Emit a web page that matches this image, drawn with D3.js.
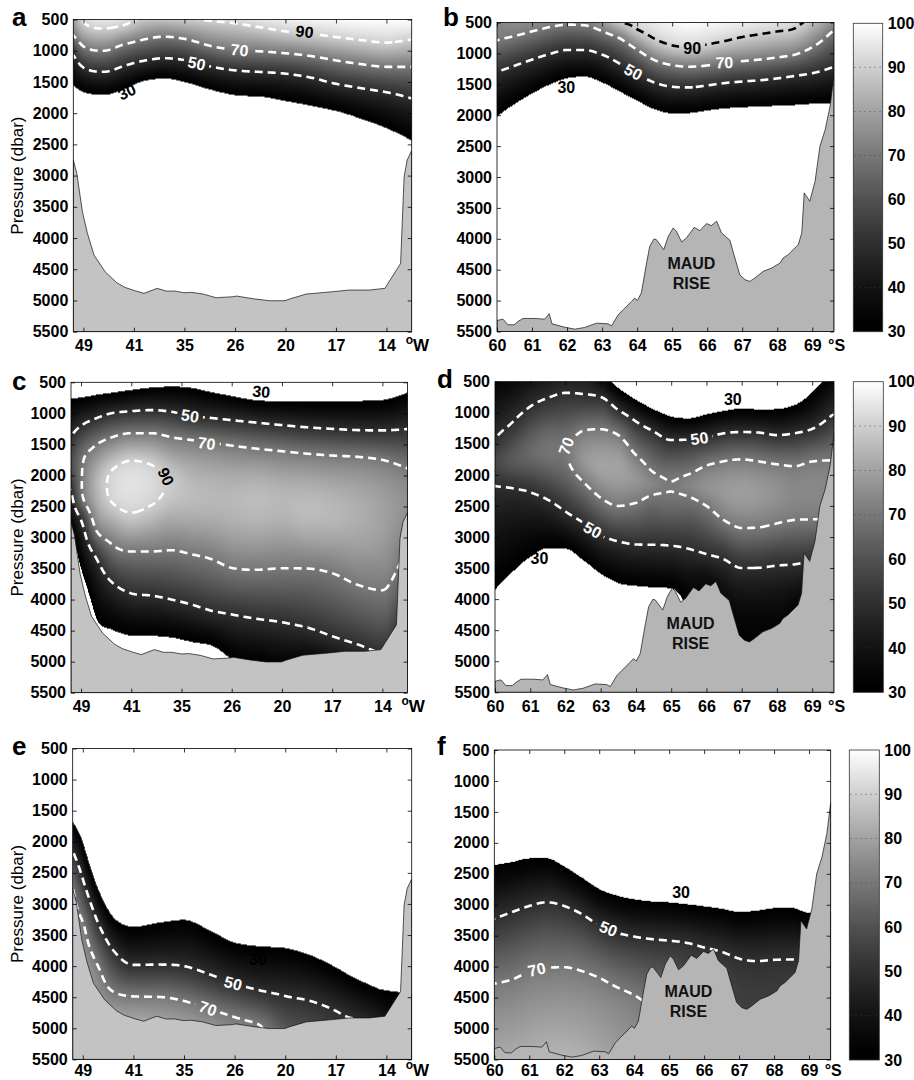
<!DOCTYPE html>
<html lang="en">
<head>
<meta charset="UTF-8">
<title>Sections</title>
<script src="https://cdn.jsdelivr.net/npm/d3@7"></script>
<style>
  body { margin: 0; background: #fff; }
  svg text { font-family: "Liberation Sans", Arial, sans-serif; }
  .tick text { font-size: 16px; font-weight: bold; }
</style>
</head>
<body>
<svg id="chart" width="914" height="1080"></svg>
<script>
// ---------- axis labels ----------
const wTickLabels = ['49', '41', '35', '26', '20', '17', '14'];
const sTicks = [60, 61, 62, 63, 64, 65, 66, 67, 68, 69];
const pTicks = [500, 1000, 1500, 2000, 2500, 3000, 3500, 4000, 4500, 5000, 5500];
const cbTicks = [30, 40, 50, 60, 70, 80, 90, 100];

// ---------- bottom topography ----------
const wBathyX = [-0.2, -0.13, -0.02, 0.08, 0.21, 0.43, 0.66, 0.82, 1.02, 1.2, 1.46, 1.64, 1.81, 1.99, 2.14, 2.37, 2.63, 2.96, 3.03, 3.36, 3.68, 3.99, 4.08, 4.41, 4.93, 5.26, 5.66, 5.97, 6.28, 6.35, 6.41, 6.5];
const wBathyP = [2752, 2965, 3579, 3926, 4273, 4540, 4715, 4790, 4844, 4886, 4806, 4849, 4849, 4876, 4870, 4897, 4956, 4940, 4929, 4972, 5004, 5004, 4977, 4897, 4860, 4833, 4833, 4806, 4406, 3019, 2752, 2600];
const sBathyLat = [60.0, 60.17, 60.31, 60.49, 60.6, 60.74, 61.08, 61.36, 61.49, 61.57, 61.93, 62.22, 62.5, 62.84, 63.17, 63.27, 63.46, 63.6, 63.84, 63.93, 64.01, 64.12, 64.27, 64.36, 64.48, 64.55, 64.76, 64.89, 65.03, 65.12, 65.27, 65.41, 65.63, 65.79, 65.98, 66.12, 66.27, 66.41, 66.65, 66.75, 66.93, 67.08, 67.22, 67.36, 67.6, 67.84, 68.08, 68.17, 68.31, 68.6, 68.7, 68.77, 68.93, 69.08, 69.22, 69.37, 69.51, 69.62];
const sBathyP = [5322, 5300, 5392, 5392, 5338, 5289, 5289, 5300, 5214, 5376, 5430, 5462, 5435, 5365, 5376, 5408, 5230, 5149, 5014, 4959, 4997, 4878, 4392, 4122, 4003, 4014, 4176, 3959, 3824, 3878, 4051, 3986, 3814, 3868, 3754, 3786, 3716, 3905, 4024, 4230, 4581, 4662, 4689, 4635, 4527, 4473, 4392, 4311, 4257, 4095, 3905, 3257, 3392, 3068, 2500, 2230, 1851, 1350];

// ---------- sections: columns and [pressure, value] profiles ----------
const aCols = [-0.2, 0.0, 0.4, 0.8, 1.2, 1.6, 2.0, 2.5, 3.0, 3.5, 4.0, 4.5, 5.0, 5.5, 6.0, 6.5];
const aProfiles = [
  [[500, 80], [751, 70], [1071, 50], [1551, 30]],
  [[500, 90.5], [540, 90], [930, 70], [1270, 50], [1665, 30]],
  [[500, 95], [644, 90], [1000, 70], [1338, 50], [1705, 30]],
  [[500, 93], [590, 90], [900, 70], [1245, 50], [1620, 30]],
  [[500, 88.5], [820, 70], [1160, 50], [1485, 30]],
  [[500, 87.5], [775, 70], [1120, 50], [1445, 30]],
  [[500, 89], [810, 70], [1150, 50], [1500, 30]],
  [[500, 91], [520, 90], [920, 70], [1250, 50], [1620, 30]],
  [[500, 93], [560, 90], [990, 70], [1315, 50], [1712, 30]],
  [[500, 95], [625, 90], [1010, 70], [1340, 50], [1735, 30]],
  [[500, 97], [690, 90], [1040, 70], [1367, 50], [1805, 30]],
  [[500, 98], [730, 90], [1085, 70], [1430, 50], [1880, 30]],
  [[500, 99], [780, 90], [1155, 70], [1530, 50], [1965, 30]],
  [[500, 100], [830, 90], [1215, 70], [1600, 50], [2090, 30]],
  [[500, 100], [870, 90], [1258, 70], [1665, 50], [2240, 30]],
  [[500, 100], [820, 90], [1258, 70], [1765, 50], [2440, 30]]
];
const aLabels = [['90', 4.38, 697, 7], ['70', 3.09, 991, 6], ['50', 2.24, 1204, 12], ['30', 0.86, 1658, -25]];

const bCols = [60.0, 60.5, 61.0, 61.5, 62.0, 62.5, 63.0, 63.5, 64.0, 64.5, 65.0, 65.5, 66.0, 66.5, 67.0, 67.5, 68.0, 68.5, 69.0, 69.62];
const bProfiles = [
  [[500, 74], [790, 70], [1300, 50], [2024, 30]],
  [[500, 75], [720, 70], [1200, 50], [1820, 30]],
  [[500, 74.5], [645, 70], [1100, 50], [1650, 30]],
  [[500, 73], [575, 70], [1010, 50], [1505, 30]],
  [[500, 71.5], [535, 70], [945, 50], [1400, 30]],
  [[500, 72], [545, 70], [945, 50], [1378, 30]],
  [[500, 78], [640, 70], [1020, 50], [1470, 30]],
  [[500, 89], [755, 70], [1165, 50], [1615, 30]],
  [[500, 93], [610, 90], [940, 70], [1330, 50], [1765, 30]],
  [[500, 96], [765, 90], [1110, 70], [1473, 50], [1905, 30]],
  [[500, 98.5], [870, 90], [1190, 70], [1540, 50], [1970, 30]],
  [[500, 100], [895, 90], [1215, 70], [1550, 50], [1965, 30]],
  [[500, 99], [855, 90], [1195, 70], [1518, 50], [1925, 30]],
  [[500, 98], [800, 90], [1148, 70], [1480, 50], [1890, 30]],
  [[500, 96.5], [735, 90], [1125, 70], [1455, 50], [1872, 30]],
  [[500, 95.5], [690, 90], [1100, 70], [1435, 50], [1858, 30]],
  [[500, 94], [645, 90], [1065, 70], [1405, 50], [1848, 30]],
  [[500, 92], [595, 90], [1020, 70], [1365, 50], [1835, 30]],
  [[500, 87], [900, 70], [1320, 50], [1815, 30]],
  [[500, 75], [619, 70], [1214, 50], [1800, 30]]
];
const bLabels = [['90', 65.57, 916, 0], ['70', 66.49, 1149, -2], ['50', 63.89, 1300, 28], ['30', 61.98, 1554, 0]];

const cCols = [-0.2, 0.0, 0.3, 0.6, 1.0, 1.4, 1.8, 2.2, 2.6, 3.0, 3.5, 4.0, 4.5, 5.0, 5.5, 6.0, 6.5];
const cProfiles = [
  [[758, 30], [1376, 50], [1800, 58], [2235, 50], [2900, 30]],
  [[745, 30], [1200, 50], [1750, 68], [2100, 69], [2400, 66], [2720, 50], [3500, 30]],
  [[702, 30], [1080, 50], [1510, 70], [2150, 84], [2879, 70], [3330, 50], [4290, 30]],
  [[668, 30], [1000, 50], [1390, 70], [1930, 90], [2170, 91.5], [2420, 90], [3100, 70], [3710, 50], [4480, 30]],
  [[624, 30], [965, 50], [1320, 70], [1762, 90], [2150, 94], [2600, 90], [3225, 70], [3900, 50], [4578, 30]],
  [[585, 30], [948, 50], [1320, 70], [1830, 90], [2150, 92.5], [2480, 90], [3225, 70], [3935, 50], [4585, 30]],
  [[570, 30], [975, 50], [1385, 70], [2150, 89], [3205, 70], [4000, 50], [4610, 30]],
  [[590, 30], [1042, 50], [1430, 70], [2300, 86], [3270, 70], [4080, 50], [4680, 30]],
  [[660, 30], [1075, 50], [1475, 70], [2350, 85], [3350, 70], [4180, 50], [4740, 30]],
  [[720, 30], [1110, 50], [1520, 70], [2400, 85], [3490, 70], [4240, 50], [4960, 30]],
  [[790, 30], [1150, 50], [1570, 70], [2400, 86], [3520, 70], [4310, 50], [5050, 30]],
  [[805, 30], [1190, 50], [1610, 70], [2450, 85], [3495, 70], [4365, 50], [5150, 30]],
  [[811, 30], [1225, 50], [1650, 70], [2550, 86], [3500, 70], [4450, 50], [5100, 30]],
  [[811, 30], [1250, 50], [1680, 70], [2600, 85], [3575, 70], [4590, 50], [5200, 30]],
  [[800, 30], [1270, 50], [1700, 70], [2600, 83], [3760, 70], [4720, 50], [5300, 30]],
  [[785, 30], [1275, 50], [1750, 70], [2600, 80], [3850, 70], [4850, 50], [5400, 30]],
  [[666, 30], [1252, 50], [1886, 70], [2500, 76], [3200, 70], [4300, 50], [5000, 30]]
];
const cLabels = [['30', 3.59, 650, 5], ['50', 2.17, 1042, 9], ['70', 2.5, 1483, 8], ['90', 1.69, 2020, 65]];

const dCols = [60.0, 60.5, 61.0, 61.5, 62.0, 62.5, 63.0, 63.5, 64.0, 64.5, 65.0, 65.5, 66.0, 66.5, 67.0, 67.5, 68.0, 68.5, 69.0, 69.62];
const dProfiles = [
  [[500, 33], [1420, 50], [1800, 57], [2180, 50], [3853, 30]],
  [[500, 36], [1150, 50], [1750, 62], [2215, 50], [3560, 30]],
  [[500, 40], [900, 50], [1650, 66], [2280, 50], [3320, 30]],
  [[500, 43], [760, 50], [1600, 69], [2400, 50], [3180, 30]],
  [[500, 46], [680, 50], [1620, 69.8], [2590, 50], [3190, 30]],
  [[500, 46], [700, 50], [1290, 70], [1750, 77], [2110, 70], [2770, 50], [3370, 30]],
  [[500, 38], [745, 50], [1265, 70], [1850, 80], [2370, 70], [2975, 50], [3590, 30]],
  [[600, 30], [955, 50], [1360, 70], [1900, 80], [2500, 70], [3070, 50], [3740, 30]],
  [[790, 30], [1140, 50], [1680, 70], [2050, 77], [2450, 70], [3120, 50], [3785, 30]],
  [[945, 30], [1300, 50], [1960, 70], [2150, 73], [2320, 70], [3125, 50], [3810, 30]],
  [[1060, 30], [1439, 50], [2180, 70.3], [3140, 50], [3830, 30]],
  [[1088, 30], [1430, 50], [1990, 70], [2170, 73], [2350, 70], [3190, 50], [4000, 33], [5500, 31]],
  [[1025, 30], [1395, 50], [1850, 70], [2200, 76], [2500, 70], [3275, 50], [3800, 36], [5500, 32]],
  [[970, 30], [1330, 50], [1780, 70], [2250, 78], [2730, 70], [3360, 50], [4200, 34], [5500, 31]],
  [[930, 30], [1310, 50], [1750, 70], [2280, 79], [2855, 70], [3500, 50], [4400, 34], [5500, 31]],
  [[945, 30], [1320, 50], [1785, 70], [2300, 78], [2845, 70], [3495, 50], [4400, 34], [5500, 31]],
  [[940, 30], [1360, 50], [1830, 70], [2300, 76], [2780, 70], [3460, 50], [4300, 35], [5500, 31]],
  [[876, 30], [1330, 50], [1860, 70], [2300, 74], [2725, 70], [3440, 50], [4150, 35], [5500, 31]],
  [[670, 30], [1260, 50], [1785, 70], [2250, 74], [2716, 70], [3400, 50], [4000, 36], [5500, 32]],
  [[500, 36], [1010, 50], [1761, 70], [2250, 73], [2700, 70], [3400, 50], [4000, 36], [5500, 32]]
];
const dLabels = [['30', 66.75, 784, 0], ['50', 65.8, 1412, -8], ['70', 62.02, 1535, -70], ['50', 62.77, 2887, 29], ['30', 61.26, 3343, 0]];

const eCols = [-0.2, 0.0, 0.3, 0.6, 1.0, 1.5, 2.0, 2.5, 3.0, 3.5, 4.0, 4.5, 5.0, 5.5, 6.0, 6.3];
const eProfiles = [
  [[1676, 30], [2145, 50], [2738, 70], [3500, 76]],
  [[2010, 30], [2600, 50], [3290, 70], [3700, 75]],
  [[2755, 30], [3300, 50], [4000, 70], [4600, 78]],
  [[3210, 30], [3745, 50], [4410, 70], [4800, 80]],
  [[3365, 30], [3980, 50], [4487, 70], [4900, 82]],
  [[3300, 30], [3975, 50], [4495, 70], [4900, 81]],
  [[3255, 30], [4000, 50], [4560, 70], [4950, 80]],
  [[3420, 30], [4130, 50], [4690, 70], [5000, 78]],
  [[3620, 30], [4280, 50], [4820, 70], [5000, 73]],
  [[3682, 30], [4390, 50], [4950, 70], [5050, 71]],
  [[3709, 30], [4480, 50], [5050, 63]],
  [[3825, 30], [4560, 50], [4950, 57]],
  [[4020, 30], [4720, 50], [4900, 52]],
  [[4240, 30], [4880, 50]],
  [[4390, 30], [5000, 45]],
  [[4440, 30], [5500, 36]]
];
const eLabels = [['30', 3.46, 3887, 0], ['50', 2.97, 4276, 15], ['70', 2.47, 4680, 20]];

const fCols = [60.0, 60.5, 61.0, 61.5, 62.0, 62.5, 63.0, 63.5, 64.0, 64.5, 65.0, 65.5, 66.0, 66.5, 67.0, 67.5, 68.0, 68.5, 69.0, 69.62];
const fProfiles = [
  [[2359, 30], [3225, 50], [4275, 70], [5500, 82]],
  [[2310, 30], [3120, 50], [4210, 70], [5500, 83]],
  [[2250, 30], [3020, 50], [4080, 70], [5500, 84]],
  [[2248, 30], [2960, 50], [4020, 70], [5500, 85]],
  [[2380, 30], [3020, 50], [4010, 70], [5500, 85]],
  [[2560, 30], [3150, 50], [4070, 70], [5500, 84]],
  [[2745, 30], [3330, 50], [4180, 70], [5500, 82]],
  [[2850, 30], [3450, 50], [4330, 70], [5500, 80]],
  [[2910, 30], [3515, 50], [4460, 70], [5500, 77]],
  [[2945, 30], [3555, 50], [4650, 70], [5500, 75]],
  [[2960, 30], [3580, 50], [4850, 70], [5500, 73]],
  [[2990, 30], [3615, 50], [5500, 68]],
  [[3025, 30], [3690, 50], [5500, 64]],
  [[3065, 30], [3760, 50], [5500, 60]],
  [[3115, 30], [3870, 50], [5500, 57]],
  [[3095, 30], [3910, 50], [5500, 56]],
  [[3055, 30], [3890, 50], [5500, 56]],
  [[3050, 30], [3884, 50], [5500, 56]],
  [[3130, 30], [3900, 50], [5500, 56]],
  [[3130, 30], [3900, 50], [5500, 56]]
];
const fLabels = [['30', 65.34, 2795, 0], ['50', 63.26, 3388, 22], ['70', 61.21, 4045, -13]];

const maudLat = 65.55;
const maudText = ['MAUD', 'RISE'];
const maudP = [4485, 4807];

// ---------- layout ----------
const wDomain = [-0.2, 6.5];
const sDomain = [60, 69.62];
const panels = [
  {key: 'a', sec: 'W', cols: aCols, prof: aProfiles, labels: aLabels, box: [73.3, 19.5, 411.7, 331.7], letter: [12, 26], cb: null, dark90: false, xpad: 8},
  {key: 'b', sec: 'S', cols: bCols, prof: bProfiles, labels: bLabels, box: [497, 22.5, 834, 331.5], letter: [443, 26], cb: [853.3, 23.3, 882.7, 331.7], dark90: true, xpad: 8},
  {key: 'c', sec: 'W', cols: cCols, prof: cProfiles, labels: cLabels, box: [71, 382.3, 407.5, 692.7], letter: [12, 390], cb: null, dark90: false, xpad: 8},
  {key: 'd', sec: 'S', cols: dCols, prof: dProfiles, labels: dLabels, box: [495, 381.7, 834, 692.3], letter: [437, 388], cb: [853.3, 381.7, 883.3, 692.3], dark90: false, xpad: 8},
  {key: 'e', sec: 'W', cols: eCols, prof: eProfiles, labels: eLabels, box: [72.7, 748.5, 411.7, 1059.4], letter: [12, 755], cb: null, dark90: false, xpad: 5},
  {key: 'f', sec: 'S', cols: fCols, prof: fProfiles, labels: fLabels, box: [494.3, 750, 830.7, 1059.5], letter: [437, 755], cb: [849.3, 750, 879.3, 1060], dark90: false, xpad: 5}
];

const M = 4;            // grid margin (cells) so contour rings close outside the clip
const gamma = 1.35;
const grayOf = v => Math.round(255 * Math.pow(Math.max(0, Math.min(1, (v - 30) / 70)), gamma));

// monotone cubic helpers
function monoTangents(xs, vs) {
  const n = xs.length, d = [], m = new Array(n);
  if (n < 2) return [0];
  for (let k = 0; k < n - 1; k++) d.push((vs[k + 1] - vs[k]) / (xs[k + 1] - xs[k]));
  m[0] = d[0]; m[n - 1] = d[n - 2];
  for (let k = 1; k < n - 1; k++) m[k] = d[k - 1] * d[k] <= 0 ? 0 : (d[k - 1] + d[k]) / 2;
  for (let k = 0; k < n - 1; k++) {
    if (d[k] === 0) { m[k] = 0; m[k + 1] = 0; continue; }
    const a = m[k] / d[k], b = m[k + 1] / d[k], s = a * a + b * b;
    if (s > 9) { const tau = 3 / Math.sqrt(s); m[k] = tau * a * d[k]; m[k + 1] = tau * b * d[k]; }
  }
  return m;
}
function hermite(xs, vs, m, x) {
  const n = xs.length;
  if (x <= xs[0]) return vs[0];
  if (x >= xs[n - 1]) return vs[n - 1];
  const i = Math.min(n - 2, d3.bisectRight(xs, x) - 1);
  const h = xs[i + 1] - xs[i], t = (x - xs[i]) / h, t2 = t * t, t3 = t2 * t;
  return (2 * t3 - 3 * t2 + 1) * vs[i] + (t3 - 2 * t2 + t) * h * m[i] + (-2 * t3 + 3 * t2) * vs[i + 1] + (t3 - t2) * h * m[i + 1];
}
function profileValue(pr, p) {
  const ps = pr.ps, vs = pr.vs, n = ps.length;
  if (p <= ps[0]) return vs[0] + (p - ps[0]) * (vs[1] - vs[0]) / (ps[1] - ps[0]);
  if (p >= ps[n - 1]) return vs[n - 1] + (p - ps[n - 1]) * (vs[n - 1] - vs[n - 2]) / (ps[n - 1] - ps[n - 2]);
  return hermite(ps, vs, pr.m, p);
}

const svg = d3.select('#chart');
const defs = svg.append('defs');

// colorbar gradient
const grad = defs.append('linearGradient').attr('id', 'cbgrad')
  .attr('x1', 0).attr('y1', 1).attr('x2', 0).attr('y2', 0);
d3.range(30, 100.1, 2).forEach(v => {
  const g = grayOf(v);
  grad.append('stop').attr('offset', (v - 30) / 70).attr('stop-color', `rgb(${g},${g},${g})`);
});

panels.forEach(P => {
  const [l, t, r, b] = P.box;
  const x = d3.scaleLinear().domain(P.sec === 'W' ? wDomain : sDomain).range([l, r]);
  const y = d3.scaleLinear().domain([500, 5500]).range([t, b]);
  const g = svg.append('g').attr('class', 'panel-' + P.key);
  const clipUrl = `url(#clip-${P.key})`;
  defs.append('clipPath').attr('id', 'clip-' + P.key)
    .append('rect').attr('x', l).attr('y', t).attr('width', r - l).attr('height', b - t);

  // ---- value grid ----
  const cw = Math.round(r - l), ch = Math.round(b - t);
  const nx = cw + 2 * M, ny = ch + 2 * M;
  const sx = (r - l) / cw, sy = (b - t) / ch;
  const profs = P.prof.map(k => {
    const ps = k.map(d => d[0]), vs = k.map(d => d[1]);
    return {ps, vs, m: monoTangents(ps, vs)};
  });
  const [d0, d1] = x.domain();
  const values = new Array(nx * ny);
  for (let j = 0; j < ny; j++) {
    const p = Math.max(500, Math.min(5500, y.invert(t + (j - M + 0.5) * sy)));
    const colVals = profs.map(pr => Math.max(0, Math.min(105, profileValue(pr, p))));
    const cm = monoTangents(P.cols, colVals);
    for (let i = 0; i < nx; i++) {
      const xv = Math.max(d0, Math.min(d1, x.invert(l + (i - M + 0.5) * sx)));
      values[j * nx + i] = Math.max(0, Math.min(100, hermite(P.cols, colVals, cm, xv)));
    }
  }

  // ---- shaded field ----
  const canvas = document.createElement('canvas');
  canvas.width = cw; canvas.height = ch;
  const ctx = canvas.getContext('2d');
  const img = ctx.createImageData(cw, ch);
  for (let j = 0; j < ch; j++) {
    for (let i = 0; i < cw; i++) {
      const v = values[(j + M) * nx + i + M];
      const k = 4 * (j * cw + i);
      if (v < 30) { img.data[k + 3] = 0; continue; }
      const gv = grayOf(v);
      img.data[k] = gv; img.data[k + 1] = gv; img.data[k + 2] = gv; img.data[k + 3] = 255;
    }
  }
  ctx.putImageData(img, 0, 0);
  g.append('image').attr('x', l).attr('y', t).attr('width', r - l).attr('height', b - t)
    .attr('preserveAspectRatio', 'none').attr('href', canvas.toDataURL());

  // ---- label gaps ----
  const mask = defs.append('mask').attr('id', 'mask-' + P.key)
    .attr('maskUnits', 'userSpaceOnUse').attr('x', 0).attr('y', 0).attr('width', 914).attr('height', 1080);
  mask.append('rect').attr('width', 914).attr('height', 1080).attr('fill', '#fff');
  P.labels.forEach(([txt, xv, pv, ang]) => {
    mask.append('rect').attr('x', -13).attr('y', -7).attr('width', 26).attr('height', 14)
      .attr('transform', `translate(${x(xv)},${y(pv)}) rotate(${ang})`).attr('fill', '#000');
  });

  // ---- contour lines ----
  const contours = d3.contours().size([nx, ny]).thresholds([50, 70, 90])(values);
  const path = d3.geoPath(d3.geoTransform({
    point(px, py) { this.stream.point(l + (px - M) * sx, t + (py - M) * sy); }
  }));
  g.append('g').attr('clip-path', clipUrl)
    .append('g').attr('mask', `url(#mask-${P.key})`)
    .selectAll('path').data(contours).join('path')
    .attr('d', path)
    .attr('fill', 'none')
    .attr('stroke', d => (d.value === 90 && P.dark90) ? '#000' : '#fff')
    .attr('stroke-width', 2.6)
    .attr('stroke-dasharray', '8,5');

  // ---- topography ----
  const bx = P.sec === 'W' ? wBathyX : sBathyLat;
  const bp = P.sec === 'W' ? wBathyP : sBathyP;
  const area = d3.area().x(d => x(d[0])).y0(y(5500)).y1(d => y(d[1]));
  g.append('path').datum(d3.zip(bx, bp)).attr('d', area)
    .attr('clip-path', clipUrl)
    .attr('fill', P.sec === 'W' ? '#c3c3c3' : '#b5b5b5')
    .attr('stroke', '#111').attr('stroke-width', 0.7);

  if (P.sec === 'S') {
    g.append('g').selectAll('text').data(maudText).join('text')
      .attr('x', x(maudLat)).attr('y', (d, i) => y(maudP[i]))
      .attr('text-anchor', 'middle').attr('font-size', 16).attr('font-weight', 'bold')
      .attr('fill', '#111').text(d => d);
  }

  // ---- contour labels ----
  g.append('g').selectAll('text').data(P.labels).join('text')
    .attr('transform', d => `translate(${x(d[1])},${y(d[2])}) rotate(${d[3]})`)
    .attr('text-anchor', 'middle').attr('dy', '0.35em')
    .attr('font-size', 16).attr('font-weight', 'bold')
    .attr('fill', d => (d[0] === '30' || d[0] === '90') ? '#000' : '#fff')
    .text(d => d[0]);

  // ---- frame and axes ----
  g.append('rect').attr('x', l).attr('y', t).attr('width', r - l).attr('height', b - t)
    .attr('fill', 'none').attr('stroke', '#000').attr('stroke-width', 0.8);

  const xt = P.sec === 'W' ? d3.range(7) : sTicks;
  const xf = P.sec === 'W' ? (d => wTickLabels[d]) : (d => d);
  const noDomain = sel => sel.select('.domain').remove();
  g.append('g').attr('transform', `translate(${l},0)`)
    .call(d3.axisLeft(y).tickValues(pTicks).tickSize(-4).tickPadding(5).tickFormat(d3.format('d'))).call(noDomain);
  g.append('g').attr('transform', `translate(${r},0)`)
    .call(d3.axisRight(y).tickValues(pTicks).tickSize(-4).tickFormat('')).call(noDomain);
  g.append('g').attr('transform', `translate(0,${b})`)
    .call(d3.axisBottom(x).tickValues(xt).tickSize(-4).tickPadding(P.xpad).tickFormat(xf)).call(noDomain);
  g.append('g').attr('transform', `translate(0,${t})`)
    .call(d3.axisTop(x).tickValues(xt).tickSize(-4).tickFormat('')).call(noDomain);
  g.selectAll('.tick line').attr('stroke-width', 0.8);

  // degree unit
  const unit = g.append('text').attr('x', r - 6).attr('y', b + P.xpad + 11.5)
    .attr('font-size', 16).attr('font-weight', 'bold');
  if (P.sec === 'W') {
    unit.append('tspan').attr('font-size', 12).attr('dy', -7).text('o');
    unit.append('tspan').attr('font-size', 17).attr('dy', 7).text('W');
  } else {
    unit.append('tspan').text('°S');
  }

  if (P.sec === 'W') {
    g.append('text').attr('transform', `translate(23,${(t + b) / 2}) rotate(-90)`)
      .attr('text-anchor', 'middle').attr('font-size', 17).text('Pressure (dbar)');
  }

  g.append('text').attr('x', P.letter[0]).attr('y', P.letter[1])
    .attr('font-size', 26).attr('font-weight', 'bold').text(P.key);

  // ---- colorbar ----
  if (P.cb) {
    const [cl, ct, cr, cbot] = P.cb;
    const yc = d3.scaleLinear().domain([30, 100]).range([cbot, ct]);
    g.append('rect').attr('x', cl).attr('y', ct).attr('width', cr - cl).attr('height', cbot - ct)
      .attr('fill', 'url(#cbgrad)').attr('stroke', '#333').attr('stroke-width', 0.8);
    g.append('g').selectAll('line').data(cbTicks.slice(1, -1)).join('line')
      .attr('x1', cl + 1).attr('x2', cr - 1).attr('y1', d => yc(d)).attr('y2', d => yc(d))
      .attr('stroke', '#444').attr('stroke-width', 0.8).attr('stroke-dasharray', '1.5,3.5').attr('opacity', 0.7);
    g.append('g').attr('transform', `translate(${cr},0)`)
      .call(d3.axisRight(yc).tickValues(cbTicks).tickSize(0).tickPadding(5)).call(noDomain);
  }
});
</script>
</body>
</html>
